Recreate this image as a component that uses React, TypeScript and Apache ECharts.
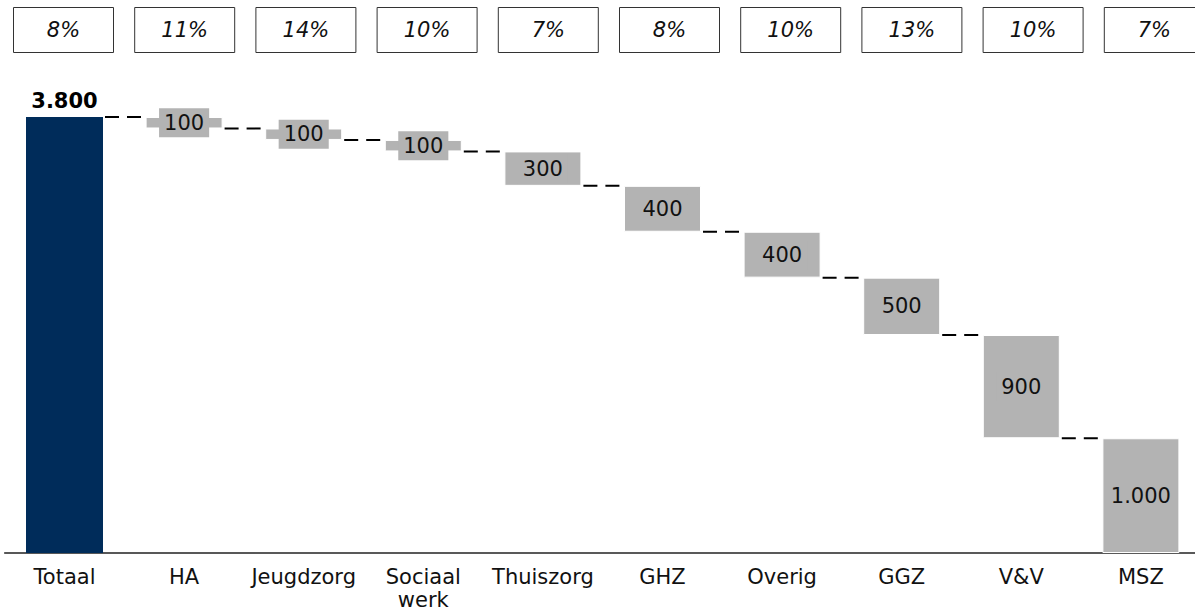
import React, { useEffect, useRef } from "react";
import * as echarts from "echarts";

const categories = ["Totaal", "HA", "Jeugdzorg", "Sociaal\nwerk", "Thuiszorg", "GHZ", "Overig", "GGZ", "V&V", "MSZ"];
const values = [3800, 100, 100, 100, 300, 400, 400, 500, 900, 1000];
const valueLabels = ["3.800", "100", "100", "100", "300", "400", "400", "500", "900", "1.000"];
const shares = ["8%", "11%", "14%", "10%", "7%", "8%", "10%", "13%", "10%", "7%"];

const FONT = "DejaVu Sans";
const NAVY = "#002c5a";
const GRAY = "#b3b3b3";
const FS = 21;

export default function App() {
  const ref = useRef<HTMLDivElement>(null);

  useEffect(() => {
    if (!ref.current) return;
    const chart = echarts.init(ref.current, null, { renderer: "svg" });

    // running levels of the waterfall
    const levels: number[] = [];
    values.forEach((v, i) => {
      levels.push(i === 0 ? v : levels[i - 1] - v);
    });
    const bases = values.map((v, i) => (i === 0 ? 0 : levels[i]));

    const valueData = values.map((v, i) => {
      if (i === 0) {
        return {
          value: v,
          itemStyle: { color: NAVY, borderWidth: 0 },
          label: {
            show: true,
            position: "top",
            distance: 6,
            formatter: valueLabels[i],
            fontWeight: "bold",
            fontSize: FS,
            fontFamily: FONT,
            color: "#000",
          },
        };
      }
      return {
        value: v,
        label: {
          show: true,
          position: "inside",
          formatter: valueLabels[i],
          fontSize: FS,
          fontFamily: FONT,
          color: "#111",
          backgroundColor: GRAY,
          padding: [4, 5],
        },
      };
    });

    const connectorData = levels.slice(0, levels.length - 1).map((l, i) => [i, l]);

    const BAR_W = 77;

    chart.setOption({
      animation: false,
      grid: [
        { left: 4.7, width: 1196, top: 117, bottom: 62, containLabel: false, outerBoundsMode: "none" },
        { left: 2.9, width: 1212, top: 7, height: 46, containLabel: false, outerBoundsMode: "none" },
      ],
      xAxis: [
        {
          type: "category",
          gridIndex: 0,
          data: categories,
          axisLine: { show: true, lineStyle: { color: "#222", width: 1.5 } },
          axisTick: { show: false },
          axisLabel: {
            fontSize: FS,
            fontFamily: FONT,
            color: "#111",
            margin: 12,
            lineHeight: 23,
            interval: 0,
          },
        },
        {
          type: "category",
          gridIndex: 1,
          data: categories,
          show: false,
        },
      ],
      yAxis: [
        { type: "value", gridIndex: 0, min: 0, max: 3800, show: false, splitLine: { show: false } },
        { type: "value", gridIndex: 1, min: 0, max: 1, show: false, splitLine: { show: false } },
      ],
      series: [
        {
          type: "bar",
          name: "base",
          stack: "wf",
          xAxisIndex: 0,
          yAxisIndex: 0,
          barWidth: BAR_W,
          itemStyle: { color: "transparent" },
          silent: true,
          data: bases,
        },
        {
          type: "bar",
          name: "value",
          stack: "wf",
          xAxisIndex: 0,
          yAxisIndex: 0,
          barWidth: BAR_W,
          itemStyle: { color: GRAY, borderColor: "#ffffff", borderWidth: 1 },
          data: valueData,
        },
        {
          type: "custom",
          name: "connectors",
          xAxisIndex: 0,
          yAxisIndex: 0,
          data: connectorData,
          renderItem: (params: any, api: any) => {
            const p = api.coord([api.value(0), api.value(1)]);
            const band = api.size([1, 0])[0];
            const x1 = p[0] + BAR_W / 2 + 2;
            const x2 = p[0] + band - BAR_W / 2 - 2;
            return {
              type: "line",
              shape: { x1, y1: p[1], x2, y2: p[1] },
              style: { stroke: "#000", lineWidth: 2, lineDash: [14, 8] },
            };
          },
        },
        {
          type: "bar",
          name: "shares",
          xAxisIndex: 1,
          yAxisIndex: 1,
          barWidth: 101,
          itemStyle: { color: "#fff", borderColor: "#333", borderWidth: 1 },
          label: {
            show: true,
            position: "inside",
            fontSize: FS,
            fontStyle: "italic",
            fontFamily: FONT,
            color: "#111",
            formatter: (p: any) => shares[p.dataIndex],
          },
          data: shares.map(() => 1),
        },
      ],
    });

    return () => chart.dispose();
  }, []);

  return (
    <div
      ref={ref}
      style={{ position: "absolute", left: 0, top: 0, width: 1195, height: 615 }}
    />
  );
}
